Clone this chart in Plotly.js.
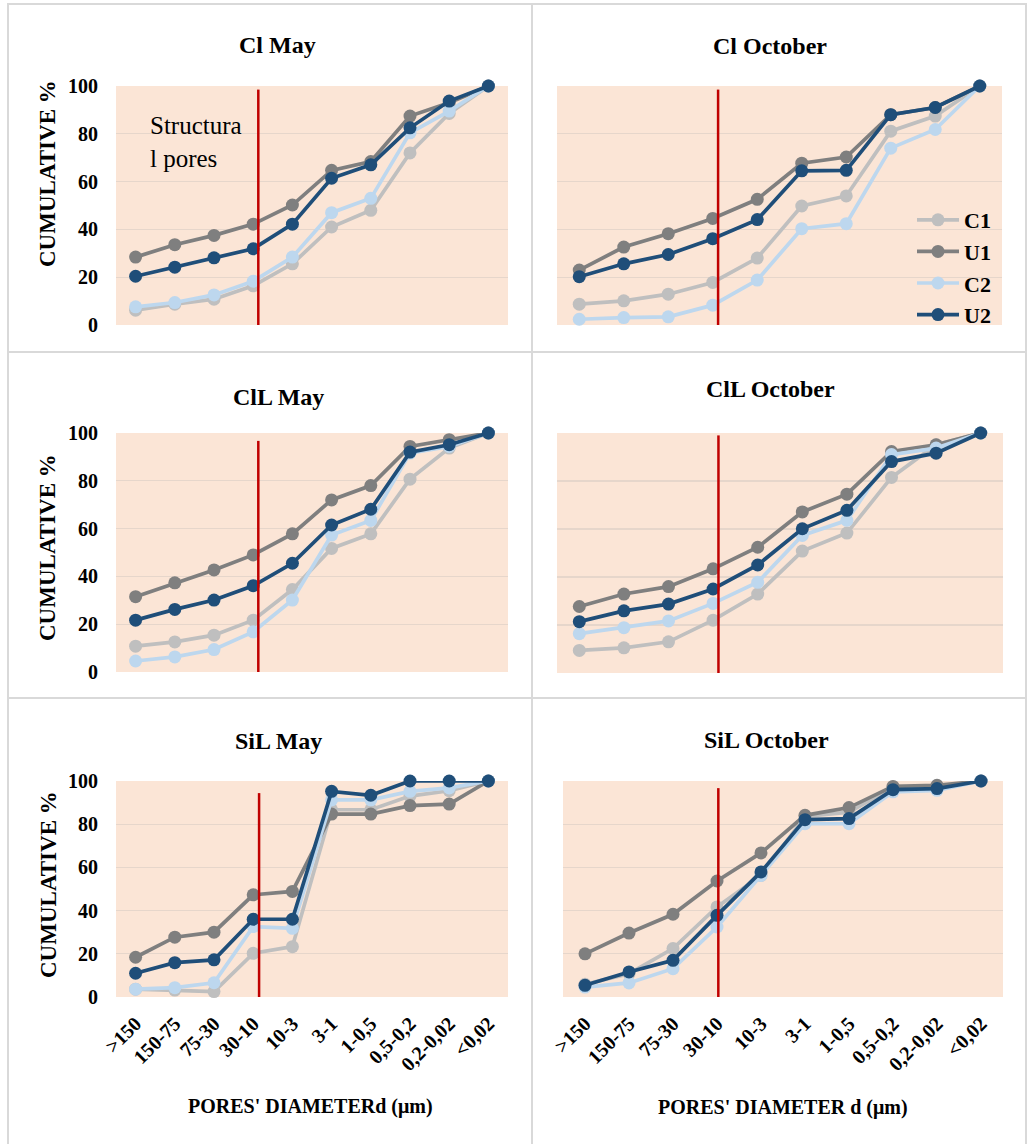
<!DOCTYPE html>
<html>
<head>
<meta charset="utf-8">
<script src="https://cdn.plot.ly/plotly-3.0.1.min.js"></script>
<style>html,body{margin:0;padding:0;background:#fff;}#chart{width:1028px;height:1144px;}</style>
</head>
<body>
<div id="chart"></div>
<script>
// ---------- DATA ----------
const categories = ['>150','150-75','75-30','30-10','10-3','3-1','1-0,5','0,5-0,2','0,2-0,02','<0,02'];
const seriesNames = ['C1','U1','C2','U2'];
const panelTitles = ['Cl May','Cl October','ClL May','ClL October','SiL May','SiL October'];
const xTitleLeft = "PORES' DIAMETERd (μm)";
const xTitleRight = "PORES' DIAMETER d (μm)";
const yTitle = 'CUMULATIVE %';
const noteText = 'Structura<br>l pores';

const clMay_C1 = [6.2, 8.7, 10.8, 16.4, 25.6, 41, 48, 72, 88.5, 100];
const clMay_U1 = [28.4, 33.6, 37.5, 42.2, 50.2, 64.7, 68.4, 87.4, 93, 100];
const clMay_C2 = [7.6, 9.4, 12.6, 18.3, 28.4, 47, 53, 80.4, 89.5, 100];
const clMay_U2 = [20.4, 24.2, 28.1, 31.9, 42.2, 61.4, 67, 82.5, 93.7, 100];

const clOct_C1 = [8.7, 10.1, 12.9, 17.8, 28, 49.8, 54, 81.1, 87.4, 100];
const clOct_U1 = [23, 32.6, 38.2, 44.6, 52.6, 67.7, 70.3, 88, 91, 100];
const clOct_C2 = [2.4, 3.1, 3.4, 8.3, 18.8, 40.3, 42.4, 74, 81.8, 100];
const clOct_U2 = [20.2, 25.6, 29.5, 36.1, 44.1, 64.5, 64.7, 88, 91, 100];

const cllMay_C1 = [10.8, 12.6, 15.4, 21.7, 34.5, 51.7, 57.8, 80.7, 93.7, 100];
const cllMay_U1 = [31.5, 37.3, 42.7, 49, 57.8, 72, 78, 94.4, 97.2, 100];
const cllMay_C2 = [4.6, 6.3, 9.4, 16.8, 30.1, 57.3, 63.4, 91.6, 94.4, 100];
const cllMay_U2 = [21.7, 26.2, 30.1, 36.1, 45.5, 61.5, 68.1, 92, 95.1, 100];

const cllOct_C1 = [9.4, 10.5, 13, 22, 32.9, 50.8, 58.3, 81.5, 95.1, 100];
const cllOct_U1 = [27.7, 32.9, 36, 43.4, 52.4, 67.1, 74.5, 92.3, 95.1, 100];
const cllOct_C2 = [16.4, 18.9, 21.7, 29, 37.8, 57.3, 63.6, 91, 93.7, 100];
const cllOct_U2 = [21.4, 25.9, 28.7, 35, 45, 60.1, 67.8, 88.1, 91.6, 100];

const silMay_C1 = [3.6, 3.2, 2.5, 20.2, 23.3, 86.7, 86.7, 93, 95.5, 100];
const silMay_U1 = [18.4, 27.7, 30, 47.3, 48.9, 84.7, 84.7, 88.6, 89.3, 100];
const silMay_C2 = [3.6, 4.3, 6.6, 32.6, 31.8, 91.3, 91.3, 95.2, 96.8, 100];
const silMay_U2 = [11, 15.9, 17.2, 36, 36, 95.2, 93.4, 100, 100, 100];

const silOct_C1 = [5.9, 10.8, 22.4, 41.7, 56.3, 83.6, 85.6, 97.2, 97.2, 100];
const silOct_U1 = [20, 29.6, 38.3, 53.7, 66.7, 84.1, 87.7, 97.5, 98, 100];
const silOct_C2 = [4.6, 6.5, 13.1, 32.4, 56.3, 80.2, 80.2, 95, 95.7, 100];
const silOct_U2 = [5.4, 11.6, 17, 37.8, 57.9, 82.1, 82.6, 96, 96.5, 100];

const panelData = [
  [clMay_C1, clMay_U1, clMay_C2, clMay_U2],
  [clOct_C1, clOct_U1, clOct_C2, clOct_U2],
  [cllMay_C1, cllMay_U1, cllMay_C2, cllMay_U2],
  [cllOct_C1, cllOct_U1, cllOct_C2, cllOct_U2],
  [silMay_C1, silMay_U1, silMay_C2, silMay_U2],
  [silOct_C1, silOct_U1, silOct_C2, silOct_U2]
];

// ---------- STYLE / LAYOUT ----------
const W = 1028, H = 1144;
const px = v => v / W;
const py = v => 1 - v / H;
const FONT = 'Liberation Serif';
const colors = ['#BFBFBF', '#7F7F7F', '#BDD7EE', '#1F4E79'];
const plotBg = '#FBE5D6';
const gridCol = '#E6D6CB';
const redCol = '#C00000';

const boxes = [
  [116, 508, 86, 325],
  [557, 1002, 86, 325],
  [116, 508, 433, 672],
  [557, 1003, 433, 673],
  [116, 508, 781, 997],
  [563, 1003, 781, 997]
];
const redLines = [[3.13, 98.5], [3.12, 98.5], [3.13, 96.7], [3.12, 99], [3.15, 94.4], [3.03, 96.7]];
const titlePos = [[277, 45], [770, 46], [278, 397], [770, 389], [278, 741], [766, 740]];

const traces = [];
const layout = {
  width: W, height: H,
  margin: {l: 0, r: 0, t: 0, b: 0},
  paper_bgcolor: '#ffffff',
  plot_bgcolor: plotBg,
  font: {family: FONT, color: '#000'},
  showlegend: true,
  legend: {
    x: px(912), y: py(199), xanchor: 'left', yanchor: 'top',
    bgcolor: 'rgba(0,0,0,0)',
    font: {family: FONT, size: 22, weight: 'bold', color: '#000'},
    tracegroupgap: 11,
    itemwidth: 42,
    traceorder: 'normal'
  },
  shapes: [],
  annotations: []
};

for (let p = 0; p < 6; p++) {
  const n = p === 0 ? '' : String(p + 1);
  const xa = 'x' + n, ya = 'y' + n;
  const b = boxes[p];
  const bottomRow = p >= 4;
  layout['xaxis' + n] = {
    domain: [px(b[0]), px(b[1])],
    anchor: ya,
    type: 'category',
    categoryorder: 'array',
    categoryarray: categories,
    range: [-0.5, 9.5],
    showgrid: false, zeroline: false, showline: false,
    ticks: '',
    showticklabels: bottomRow,
    tickangle: -45,
    ticklabelstandoff: 10,
    tickfont: {family: FONT, size: 20, weight: 'bold', color: '#000'},
    fixedrange: true
  };
  layout['yaxis' + n] = {
    domain: [py(b[3]), py(b[2])],
    anchor: xa,
    range: [0, 100],
    dtick: 20, tick0: 0,
    showgrid: true, gridcolor: gridCol, gridwidth: 1.2,
    zeroline: false, showline: false,
    ticks: '',
    showticklabels: p % 2 === 0,
    ticklabelstandoff: 17,
    tickfont: {family: FONT, size: 20, weight: 'bold', color: '#000'},
    fixedrange: true
  };
  for (let s = 0; s < 4; s++) {
    traces.push({
      type: 'scatter', mode: 'lines+markers',
      name: seriesNames[s],
      legendgroup: seriesNames[s],
      showlegend: p === 1,
      x: categories, y: panelData[p][s],
      xaxis: xa, yaxis: ya,
      cliponaxis: false,
      line: {color: colors[s], width: 3.7},
      marker: {color: colors[s], size: 13}
    });
  }
  layout.shapes.push({
    type: 'line', xref: xa, yref: ya,
    x0: redLines[p][0], x1: redLines[p][0], y0: 0, y1: redLines[p][1],
    line: {color: redCol, width: 2.5}, layer: 'above'
  });
  layout.annotations.push({
    xref: 'paper', yref: 'paper', x: px(titlePos[p][0]), y: py(titlePos[p][1]),
    xanchor: 'center', yanchor: 'middle', showarrow: false,
    text: panelTitles[p],
    font: {family: FONT, size: 24, weight: 'bold', color: '#000'}
  });
}

[[174], [548], [885]].forEach(v => {
  layout.annotations.push({
    xref: 'paper', yref: 'paper', x: px(48), y: py(v[0]),
    xanchor: 'center', yanchor: 'middle', showarrow: false, textangle: -90,
    text: yTitle,
    font: {family: FONT, size: 23, weight: 'bold', color: '#000'}
  });
});
layout.annotations.push({
  xref: 'paper', yref: 'paper', x: px(310), y: py(1106),
  xanchor: 'center', yanchor: 'middle', showarrow: false,
  text: xTitleLeft, font: {family: FONT, size: 20, weight: 'bold', color: '#000'}
});
layout.annotations.push({
  xref: 'paper', yref: 'paper', x: px(783), y: py(1107),
  xanchor: 'center', yanchor: 'middle', showarrow: false,
  text: xTitleRight, font: {family: FONT, size: 20, weight: 'bold', color: '#000'}
});
layout.annotations.push({
  xref: 'paper', yref: 'paper', x: px(148), y: py(110),
  xanchor: 'left', yanchor: 'top', align: 'left', showarrow: false,
  text: noteText, font: {family: FONT, size: 25, color: '#000'}
});

const bc = '#D9D9D9';
layout.shapes.push({type: 'rect', xref: 'paper', yref: 'paper', x0: px(8), x1: px(1026), y0: py(1146), y1: py(4), line: {color: bc, width: 2}, layer: 'below'});
layout.shapes.push({type: 'line', xref: 'paper', yref: 'paper', x0: px(532), x1: px(532), y0: py(1146), y1: py(4), line: {color: bc, width: 2}, layer: 'below'});
layout.shapes.push({type: 'line', xref: 'paper', yref: 'paper', x0: px(8), x1: px(1026), y0: py(352), y1: py(352), line: {color: bc, width: 2}, layer: 'below'});
layout.shapes.push({type: 'line', xref: 'paper', yref: 'paper', x0: px(8), x1: px(1026), y0: py(698), y1: py(698), line: {color: bc, width: 2}, layer: 'below'});

Plotly.newPlot('chart', traces, layout, {staticPlot: true, displayModeBar: false});
</script>
</body>
</html>
